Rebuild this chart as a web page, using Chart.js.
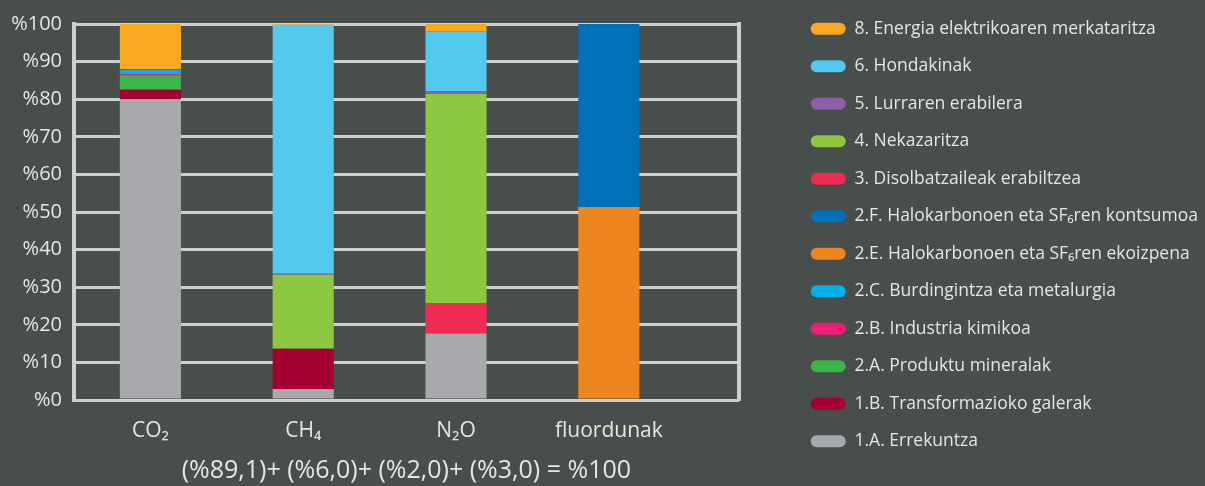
<!DOCTYPE html>
<html>
<head>
<meta charset="utf-8">
<script src="https://cdn.jsdelivr.net/npm/chart.js@4.4.1/dist/chart.umd.min.js"></script>
<style>
html, body { margin:0; padding:0; background:#474e4b; overflow:hidden; }
#caja { position:relative; width:1208px; height:486px; }
</style>
</head>
<body>
<div id="caja"><canvas id="GraficoGases"></canvas></div>
<script>
// categorias (gases)
var gases = ['CO₂', 'CH₄', 'N₂O', 'fluordunak'];
// etiquetas del eje y
var ticksY = ['%0','%10','%20','%30','%40','%50','%60','%70','%80','%90','%100'];
// titulo bajo el eje x
var formula = '(%89,1)+ (%6,0)+ (%2,0)+ (%3,0) = %100';

// porcentajes por sector, orden: CO2, CH4, N2O, fluordunak
var errekuntza      = [80.0,  2.9, 17.7,  0];   // 1.A
var transformazioa  = [ 2.5, 10.7,  0,    0];   // 1.B
var mineralak       = [ 3.9,  0,    0,    0];   // 2.A
var kimikoa         = [ 0.3,  0,    0,    0];   // 2.B
var metalurgia      = [ 1.1,  0,    0,    0];   // 2.C
var sf6Ekoizpena    = [ 0,    0,    0,   51.3]; // 2.E
var sf6Kontsumoa    = [ 0,    0,    0,   48.7]; // 2.F
var disolbatzaileak = [ 0.2,  0,    8.1,  0];   // 3
var nekazaritza     = [ 0,   19.7, 55.6,  0];   // 4
var lurra           = [ 0,    0.3,  0.8,  0];   // 5
var hondakinak      = [ 0,   66.2, 15.9,  0];   // 6
var energia         = [12.0,  0.2,  1.9,  0];   // 8

var textoColor = '#e6e6e6';
var lineaColor = '#cfcfcf';
Chart.defaults.font.family = "'Open Sans', sans-serif";

// punto {x,y} para el eje x lineal
function puntos(valores){
	return valores.map(function(v, i){ return {x: i, y: v}; });
}
function serie(nombre, valores, color){
	return { label: nombre, data: puntos(valores), backgroundColor: color, borderWidth: 0,
		categoryPercentage: 0.4, barPercentage: 1.0 };
}

var myChartGases = new Chart('GraficoGases', {
	type: 'bar',
	data: {
		datasets: [
			serie('1.A. Errekuntza', errekuntza, '#a7a9ac'),
			serie('1.B. Transformazioko galerak', transformazioa, '#a50034'),
			serie('2.A. Produktu mineralak', mineralak, '#39b54a'),
			serie('2.B. Industria kimikoa', kimikoa, '#ec1e79'),
			serie('2.C. Burdingintza eta metalurgia', metalurgia, '#00b2ec'),
			serie('2.E. Halokarbonoen eta SF₆ren ekoizpena', sf6Ekoizpena, '#ee851f'),
			serie('2.F. Halokarbonoen eta SF₆ren kontsumoa', sf6Kontsumoa, '#0071b9'),
			serie('3. Disolbatzaileak erabiltzea', disolbatzaileak, '#ef2b52'),
			serie('4. Nekazaritza', nekazaritza, '#8dc63f'),
			serie('5. Lurraren erabilera', lurra, '#8c5fa8'),
			serie('6. Hondakinak', hondakinak, '#54c9ef'),
			serie('8. Energia elektrikoaren merkataritza', energia, '#f9a822')
		]
	},
	options: {
		responsive: true,
		maintainAspectRatio: false,
		animation: false,
		layout: { padding: 0 },
		scales: {
			x: {
				type: 'linear',
				stacked: true,
				offset: false,
				min: -0.5,
				max: 3.85,
				afterBuildTicks: function(s){ s.ticks = gases.map(function(g, i){ return {value: i}; }); },
				afterFit: function(s){ s.height = 86; },
				grid: { display: false, offset: false },
				border: { display: true, color: lineaColor, width: 3 },
				ticks: {
					color: textoColor, font: { size: 21 }, padding: 10, maxRotation: 0, autoSkip: false,
					callback: function(v){ return gases[v]; }
				},
				title: { display: true, text: formula, color: textoColor, font: { size: 25 }, padding: 0 }
			},
			arriba: {
				type: 'linear', position: 'top', display: true,
				afterFit: function(s){ s.height = 24; },
				grid: { display: false }, border: { display: false }, ticks: { display: false }
			},
			y: {
				stacked: true,
				min: 0,
				max: 100,
				afterFit: function(s){ s.width = 74; },
				grid: { color: lineaColor, lineWidth: 3, drawTicks: false },
				border: { display: true, color: lineaColor, width: 4 },
				ticks: {
					stepSize: 10, color: textoColor, font: { size: 20 }, padding: 12,
					callback: function(v){ return ticksY[v / 10]; }
				}
			},
			derecha: {
				type: 'linear', position: 'right', display: true,
				afterFit: function(s){ s.width = 52; },
				grid: { display: false },
				border: { display: true, color: lineaColor, width: 4 },
				ticks: { display: false }
			}
		},
		plugins: {
			legend: {
				position: 'right',
				align: 'start',
				reverse: true,
				maxWidth: 600,
				labels: {
					color: textoColor, font: { size: 17.5 },
					boxWidth: 35, boxHeight: 12, padding: 20,
					useBorderRadius: true, borderRadius: 6
				}
			},
			tooltip: { enabled: false }
		}
	}
});
</script>
</body>
</html>
